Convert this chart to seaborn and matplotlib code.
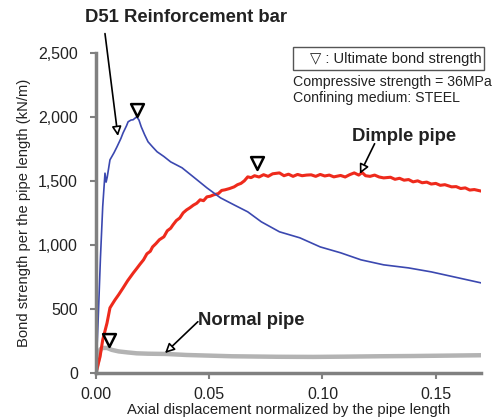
import numpy as np
import pandas as pd
import seaborn as sns
import matplotlib
matplotlib.use('Agg')
import matplotlib.pyplot as plt
from matplotlib.patches import Rectangle

# D51 reinforcement bar (blue)
bar_x = [0.0, 0.0010, 0.0020, 0.0030, 0.0040, 0.0045, 0.0050, 0.0062, 0.0080, 0.0093, 0.0110,
         0.0120, 0.0135, 0.0142, 0.0155, 0.0164, 0.0180, 0.0190, 0.0200, 0.0215, 0.0230, 0.0250,
         0.0270, 0.0300, 0.0330, 0.0380, 0.0430, 0.0490, 0.0550, 0.0610, 0.0670, 0.0730, 0.0810,
         0.0900, 0.0990, 0.1080, 0.1170, 0.1270, 0.1380, 0.1480, 0.1580, 0.1700]
bar_y = [0, 420, 900, 1300, 1560, 1490, 1530, 1664, 1720, 1766, 1830,
         1875, 1930, 1961, 1975, 1977, 2000, 1975, 1922, 1860, 1805, 1765,
         1727, 1690, 1648, 1602, 1531, 1445, 1367, 1312, 1258, 1180, 1102,
         1055, 984, 938, 883, 844, 820, 789, 750, 703]

# Dimple pipe (red, noisy)
dimple_x = [0.0, 0.0018, 0.0030, 0.0049, 0.0062, 0.0075, 0.0084, 0.0100, 0.0120, 0.0140, 0.0165,
            0.0180, 0.0195, 0.0210, 0.0225, 0.0240, 0.0250, 0.0265, 0.0280, 0.0300, 0.0315, 0.0330,
            0.0340, 0.0355, 0.0370, 0.0385, 0.0400, 0.0415, 0.0430, 0.0445, 0.0460, 0.0475, 0.0490,
            0.0505, 0.0520, 0.0540, 0.0555, 0.0570, 0.0590, 0.0610, 0.0625, 0.0640, 0.0655, 0.0670,
            0.0685, 0.0700, 0.0720, 0.0740, 0.0760, 0.0780, 0.0810, 0.0830, 0.0850, 0.0870, 0.0890,
            0.0910, 0.0930, 0.0950, 0.0970, 0.0990, 0.1010, 0.1030, 0.1050, 0.1080, 0.1100, 0.1120,
            0.1140, 0.1160, 0.1175, 0.1190, 0.1210, 0.1230, 0.1250, 0.1270, 0.1300, 0.1320, 0.1340,
            0.1360, 0.1380, 0.1400, 0.1420, 0.1440, 0.1460, 0.1480, 0.1500, 0.1520, 0.1540, 0.1570,
            0.1590, 0.1610, 0.1630, 0.1650, 0.1670, 0.1700]
dimple_y = [0, 125, 258, 390, 508, 545, 570, 610, 664, 720, 781,
            815, 850, 883, 930, 950, 984, 1010, 1040, 1063, 1110, 1130,
            1156, 1190, 1210, 1250, 1273, 1290, 1310, 1325, 1352, 1345, 1375,
            1380, 1391, 1400, 1425, 1430, 1440, 1453, 1470, 1480, 1500, 1531,
            1525, 1540, 1530, 1548, 1535, 1555, 1562, 1540, 1552, 1535, 1550,
            1540, 1545, 1547, 1535, 1550, 1538, 1545, 1531, 1542, 1530, 1548,
            1562, 1545, 1565, 1540, 1535, 1545, 1530, 1523, 1528, 1512, 1520,
            1505, 1510, 1492, 1500, 1485, 1490, 1475, 1480, 1465, 1470, 1453,
            1455, 1440, 1445, 1428, 1432, 1420]

# Normal pipe (grey)
normal_x = [0.0, 0.0010, 0.0020, 0.0030, 0.0049, 0.0070, 0.0100, 0.0140, 0.0180, 0.0230, 0.0310,
            0.0400, 0.0500, 0.0600, 0.0700, 0.0800, 0.0960, 0.1100, 0.1250, 0.1400, 0.1550, 0.1700]
normal_y = [0, 100, 185, 195, 195, 180, 168, 160, 153, 150, 148,
            140, 135, 130, 128, 126, 125, 127, 130, 132, 135, 138]

# ultimate bond strength markers
peak_x = [0.0180, 0.0710, 0.0058]
peak_y = [2055, 1640, 258]

sns.set_style('white')
plt.rcParams['font.family'] = ['Liberation Sans', 'DejaVu Sans']

fig = plt.figure(figsize=(4.97, 4.19), dpi=100)
ax = fig.add_axes([0.193, 0.110, 0.775, 0.764])

sns.lineplot(x=normal_x, y=normal_y, ax=ax, color='#b3b3b3', linewidth=3.2, sort=False)
sns.lineplot(x=dimple_x, y=dimple_y, ax=ax, color='#ee2a1c', linewidth=2.2, sort=False)
sns.lineplot(x=bar_x, y=bar_y, ax=ax, color='#3b48b0', linewidth=1.2, sort=False)
ax.scatter(peak_x, peak_y, marker='v', s=85, facecolor='white', edgecolor='black',
           linewidth=1.8, zorder=5, clip_on=False)

ax.set_xlim(0, 0.17)
ax.set_ylim(0, 2500)
ax.set_xticks([0.0, 0.05, 0.10, 0.15])
ax.set_xticklabels(['0.00', '0.05', '0.10', '0.15'])
ax.set_yticks([0, 500, 1000, 1500, 2000, 2500])
ax.set_yticklabels(['0', '500', '1,000', '1,500', '2,000', '2,500'])
ax.tick_params(axis='both', labelsize=11.5, length=4, width=1.5, color='#808080', direction='out',
               left=True, bottom=True, labelcolor='#222222')
ax.tick_params(axis='y', pad=9)
ax.tick_params(axis='x', pad=6)
for s in ['top', 'right']:
    ax.spines[s].set_visible(False)
for s in ['left', 'bottom']:
    ax.spines[s].set_color('#808080')
    ax.spines[s].set_linewidth(2.5)

ax.set_xlabel('Axial displacement normalized by the pipe length', fontsize=10.7, labelpad=1,
              color='#222222')
ax.set_ylabel('Bond strength per the pipe length (kN/m)', fontsize=10.6, labelpad=5,
              color='#222222')

arrow = dict(arrowstyle='-|>', fc='white', ec='black', lw=1.2, mutation_scale=14, shrinkA=0, shrinkB=0)
ax.annotate('', xy=(0.0097, 1850), xytext=(0.0040, 2650), arrowprops=arrow, annotation_clip=False)
ax.text(-0.0048, 2773, 'D51 Reinforcement bar', fontsize=13.3, fontweight='bold', va='center',
        ha='left', clip_on=False, color='#222222')
ax.annotate('', xy=(0.1165, 1555), xytext=(0.1230, 1790), arrowprops=arrow)
ax.text(0.1130, 1844, 'Dimple pipe', fontsize=13.3, fontweight='bold', va='center', ha='left',
        color='#222222')
ax.annotate('', xy=(0.0305, 155), xytext=(0.0450, 400), arrowprops=arrow)
ax.text(0.0450, 406, 'Normal pipe', fontsize=13.3, fontweight='bold', va='center', ha='left',
        color='#222222')

ax.add_patch(Rectangle((0.512, 0.945), 0.496, 0.074, transform=ax.transAxes, fc='white',
                       ec='#555555', lw=1, clip_on=False, zorder=6))
ax.text(0.556, 0.982, '\u25bd : Ultimate bond strength', transform=ax.transAxes, fontsize=10.5,
        va='center', ha='left', zorder=7, color='#222222')
ax.text(0.512, 0.910, 'Compressive strength = 36MPa', transform=ax.transAxes, fontsize=10.2,
        va='center', ha='left', color='#222222')
ax.text(0.512, 0.858, 'Confining medium: STEEL', transform=ax.transAxes, fontsize=10.2,
        va='center', ha='left', color='#222222')

fig.savefig('out.png', dpi=100)
